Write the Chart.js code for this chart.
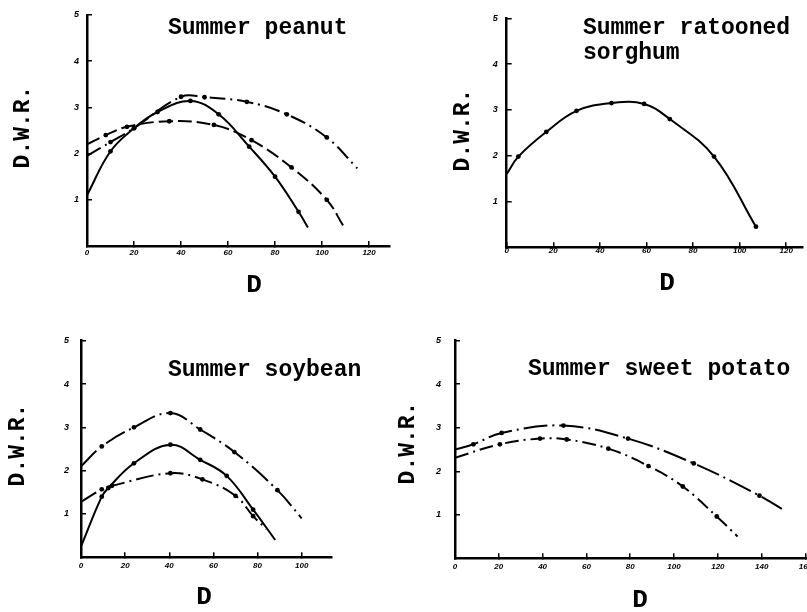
<!DOCTYPE html>
<html>
<head>
<meta charset="utf-8">
<script src="https://cdn.jsdelivr.net/npm/chart.js@4"></script>
<style>
  body { margin: 0; background: #fff; }
  #wrap { position: relative; width: 807px; height: 612px; overflow: hidden; background: #fff; }
  canvas { position: absolute; }
</style>
</head>
<body>
<div id="wrap">
  <canvas id="peanut" width="400" height="310" style="left:0;top:0"></canvas>
  <canvas id="sorghum" width="407" height="310" style="left:400px;top:0"></canvas>
  <canvas id="soybean" width="400" height="302" style="left:0;top:310px"></canvas>
  <canvas id="potato" width="417" height="302" style="left:390px;top:310px"></canvas>
</div>
<script>
// tick labels
const yTicks = [1, 2, 3, 4, 5];
const xTicks120 = [0, 20, 40, 60, 80, 100, 120];
const xTicks100 = [0, 20, 40, 60, 80, 100];
const xTicks160 = [0, 20, 40, 60, 80, 100, 120, 140, 160];

// Summer peanut (D, D.W.R.)
const peanut1D = [0, 10, 20, 30, 44, 56, 69, 80, 90, 94];
const peanut1R = [1.1, 2.05, 2.55, 2.9, 3.14, 2.85, 2.15, 1.5, 0.74, 0.4];
const peanut2D = [0, 8, 17, 35, 54, 70, 87, 102, 109];
const peanut2R = [2.2, 2.4, 2.58, 2.7, 2.62, 2.29, 1.7, 1.0, 0.44];
const peanut3D = [0, 10, 20, 40, 50, 68, 85, 102, 115];
const peanut3R = [1.95, 2.25, 2.55, 3.23, 3.22, 3.12, 2.85, 2.35, 1.68];

// Summer ratooned sorghum
const sorghumD = [0, 5, 17, 30, 45, 59, 70, 89, 107];
const sorghumR = [1.6, 1.98, 2.52, 2.98, 3.15, 3.13, 2.8, 1.98, 0.45];

// Summer soybean
const soy1D = [0, 9.4, 24, 40.5, 54, 69.5, 89, 100];
const soy1R = [2.1, 2.56, 3.0, 3.33, 2.95, 2.43, 1.55, 0.9];
const soy2D = [0, 9.4, 12.4, 24, 40.5, 54, 66, 78, 88];
const soy2R = [0.25, 1.4, 1.6, 2.17, 2.6, 2.25, 1.88, 1.1, 0.4];
const soy3D = [0, 9.4, 14, 40.5, 55, 70, 78, 84];
const soy3R = [1.28, 1.57, 1.65, 1.94, 1.8, 1.42, 0.95, 0.65];

// Summer sweet potato
const potato1D = [0, 8.4, 21.3, 49.5, 79, 109, 139, 151];
const potato1R = [2.5, 2.62, 2.88, 3.05, 2.75, 2.18, 1.44, 1.08];
const potato2D = [0, 20.5, 38.8, 51, 70, 88.3, 104, 119.5, 129];
const potato2R = [2.31, 2.62, 2.75, 2.73, 2.52, 2.12, 1.65, 0.96, 0.5];

const pts = (xs, ys) => xs.map((v, i) => ({ x: v, y: ys[i] }));

const textPlugin = {
  id: 'panelText',
  afterDraw(chart, args, opts) {
    const ctx = chart.ctx;
    (opts.items || []).forEach(t => {
      ctx.save();
      ctx.font = t.font;
      ctx.fillStyle = '#000';
      ctx.textAlign = t.align || 'center';
      ctx.textBaseline = 'middle';
      ctx.translate(t.x, t.y);
      if (t.rot) ctx.rotate(t.rot);
      ctx.fillText(t.text, 0, 0);
      ctx.restore();
    });
  }
};

const titleFont = 'bold 23px "Liberation Mono", "Courier New", monospace';
const yTitleFont = 'bold 23px "Liberation Mono", "Courier New", monospace';
const xTitleFont = 'bold 26px "Liberation Mono", "Courier New", monospace';

function line(xs, ys, dash, endMark) {
  return {
    data: pts(xs, ys),
    borderColor: '#000',
    backgroundColor: '#000',
    borderWidth: 2,
    borderDash: dash,
    tension: 0.4,
    fill: false,
    pointRadius: c => {
      if (c.dataIndex === 0) return 0;
      if (c.dataIndex === c.dataset.data.length - 1 && !endMark) return 0;
      return 2.4;
    },
    pointBorderWidth: 0
  };
}

// box: chart area inside the canvas
function makeChart(id, box, xMax, xTicks, datasets, texts, pad) {
  const cv = document.getElementById(id);
  const W = cv.width, H = cv.height;
  return new Chart(cv, {
    type: 'line',
    data: { datasets: datasets },
    plugins: [textPlugin],
    options: {
      responsive: false,
      animation: false,
      layout: { padding: { left: 0, top: box.top, right: W - box.right, bottom: 0 } },
      plugins: {
        legend: { display: false },
        tooltip: { enabled: false },
        panelText: { items: texts }
      },
      scales: {
        x: {
          type: 'linear',
          min: 0,
          max: xMax,
          afterBuildTicks: s => { s.ticks = xTicks.map(v => ({ value: v })); },
          afterFit: s => { s.height = H - box.bottom; s.paddingLeft = 0; s.paddingRight = 0; },
          border: { display: true, color: '#000', width: 2.5 },
          grid: { drawOnChartArea: false, drawTicks: true, tickLength: -5, color: '#000', lineWidth: 1.5 },
          ticks: {
            color: '#000',
            padding: pad.x,
            maxRotation: 0,
            autoSkip: false,
            font: { family: '"Liberation Sans", Arial, sans-serif', size: 8, style: 'italic', weight: 'bold' }
          }
        },
        y: {
          min: 0,
          max: 5,
          afterBuildTicks: s => { s.ticks = yTicks.map(v => ({ value: v })); },
          afterFit: s => { s.width = box.left; s.paddingTop = 0; s.paddingBottom = 0; },
          border: { display: true, color: '#000', width: 2.5 },
          grid: { drawOnChartArea: false, drawTicks: true, tickLength: -5, color: '#000', lineWidth: 1.5 },
          ticks: {
            color: '#000',
            padding: pad.y,
            font: { family: '"Liberation Sans", Arial, sans-serif', size: 9, style: 'italic', weight: 'bold' }
          }
        }
      }
    }
  });
}

makeChart('peanut', { left: 87, top: 15, right: 390, bottom: 246 }, 128.9, xTicks120, [
  line(peanut1D, peanut1R, []),
  line(peanut2D, peanut2R, [14, 5]),
  line(peanut3D, peanut3R, [16, 5, 2, 5])
], [
  { text: 'Summer peanut', x: 168, y: 28, font: titleFont, align: 'left' },
  { text: 'D.W.R.', x: 23, y: 127, font: yTitleFont, rot: -Math.PI / 2 },
  { text: 'D', x: 254, y: 285, font: xTitleFont }
], { x: 7, y: 13 });

makeChart('sorghum', { left: 106.7, top: 18.3, right: 407, bottom: 247.3 }, 127.2, xTicks120, [
  line(sorghumD, sorghumR, [], true)
], [
  { text: 'Summer ratooned', x: 183, y: 28, font: titleFont, align: 'left' },
  { text: 'sorghum', x: 183, y: 53, font: titleFont, align: 'left' },
  { text: 'D.W.R.', x: 63, y: 130, font: yTitleFont, rot: -Math.PI / 2 },
  { text: 'D', x: 267, y: 283, font: xTitleFont }
], { x: 4, y: 14 });

makeChart('soybean', { left: 81, top: 30.7, right: 331.7, bottom: 247.3 }, 113.6, xTicks100, [
  line(soy1D, soy1R, [22, 5, 2, 5]),
  line(soy2D, soy2R, []),
  line(soy3D, soy3R, [18, 5, 2, 5])
], [
  { text: 'Summer soybean', x: 168, y: 60, font: titleFont, align: 'left' },
  { text: 'D.W.R.', x: 18, y: 135, font: yTitleFont, rot: -Math.PI / 2 },
  { text: 'D', x: 204, y: 287, font: xTitleFont }
], { x: 9, y: 17 });

makeChart('potato', { left: 65, top: 30.7, right: 417, bottom: 248.3 }, 160.7, xTicks160, [
  line(potato1D, potato1R, [24, 5, 2, 5]),
  line(potato2D, potato2R, [14, 5, 2, 5])
], [
  { text: 'Summer sweet potato', x: 138, y: 59, font: titleFont, align: 'left' },
  { text: 'D.W.R.', x: 18, y: 133, font: yTitleFont, rot: -Math.PI / 2 },
  { text: 'D', x: 250, y: 290, font: xTitleFont }
], { x: 9, y: 19 });
</script>
</body>
</html>
